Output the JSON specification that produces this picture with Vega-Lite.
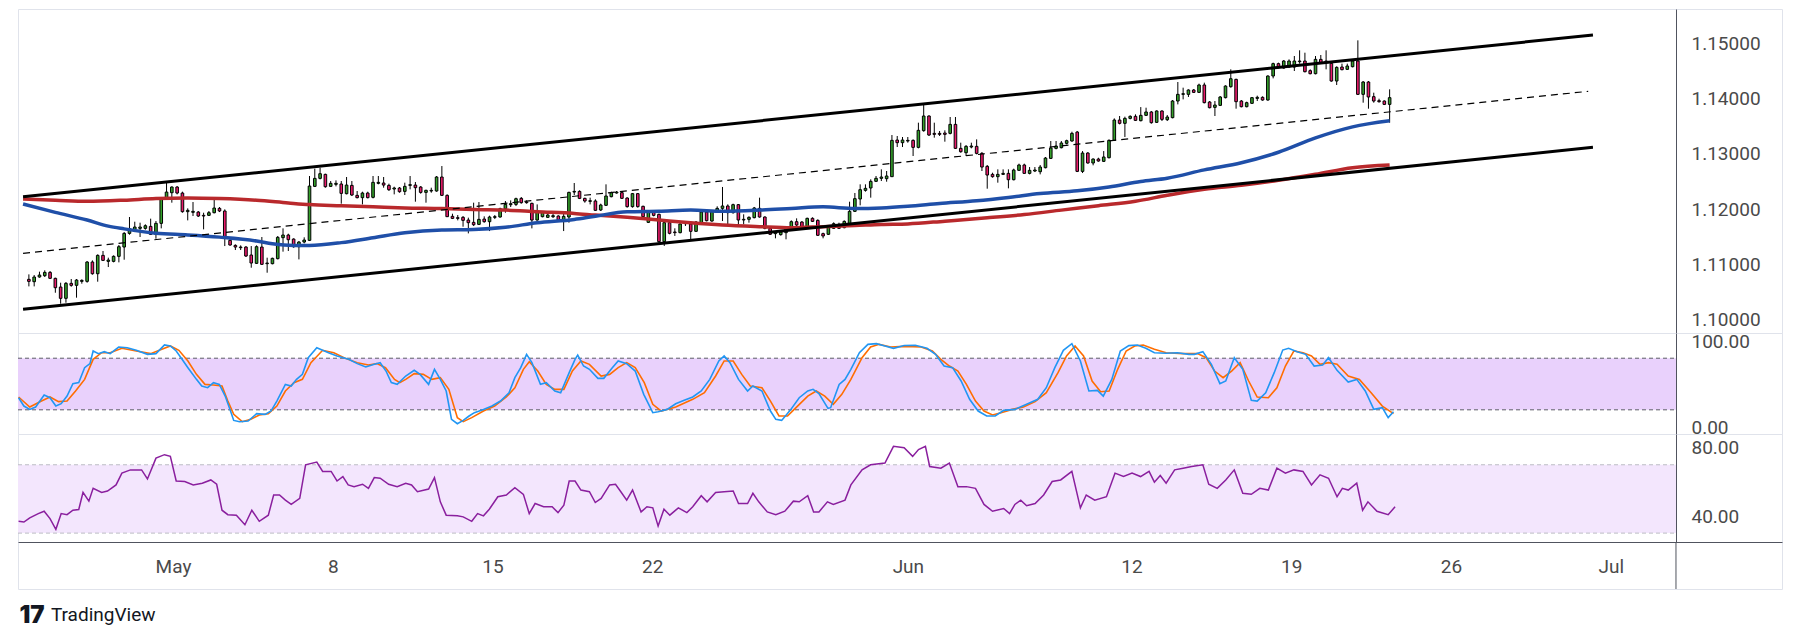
{
  "$schema": "https://vega.github.io/schema/vega-lite/v6.json",
  "description": "4h candles in a rising channel with two moving averages, stochastic and RSI panes",
  "background": "#ffffff",
  "padding": {"left": 14, "top": 8, "right": 0, "bottom": 0},
  "spacing": 0,
  "bounds": "flush",
  "title": {
    "text": "TradingView",
    "orient": "bottom",
    "anchor": "start",
    "dx": 36,
    "offset": -22,
    "baseline": "top",
    "font": "Roboto",
    "fontSize": 19,
    "fontWeight": "normal",
    "color": "#131722"
  },
  "datasets": {
    "candles": [
      {"i":0,"o":1.10724,"h":1.10814,"l":1.10596,"c":1.10687},
      {"i":1,"o":1.10681,"h":1.10802,"l":1.10596,"c":1.10766},
      {"i":2,"o":1.10766,"h":1.10863,"l":1.10754,"c":1.10802},
      {"i":3,"o":1.1079,"h":1.10887,"l":1.10766,"c":1.1085},
      {"i":4,"o":1.1085,"h":1.10875,"l":1.1073,"c":1.10742},
      {"i":5,"o":1.10742,"h":1.10754,"l":1.10481,"c":1.10572},
      {"i":6,"o":1.10584,"h":1.10663,"l":1.10282,"c":1.10379},
      {"i":7,"o":1.10379,"h":1.10675,"l":1.103,"c":1.10651},
      {"i":8,"o":1.10651,"h":1.1073,"l":1.1059,"c":1.10615},
      {"i":9,"o":1.10615,"h":1.1073,"l":1.10391,"c":1.10711},
      {"i":10,"o":1.10687,"h":1.10724,"l":1.10645,"c":1.10705},
      {"i":11,"o":1.10687,"h":1.11056,"l":1.10663,"c":1.11038},
      {"i":12,"o":1.11038,"h":1.11068,"l":1.10808,"c":1.10826},
      {"i":13,"o":1.10826,"h":1.11177,"l":1.10681,"c":1.11159},
      {"i":14,"o":1.11159,"h":1.11238,"l":1.11056,"c":1.11068},
      {"i":15,"o":1.1105,"h":1.11117,"l":1.10947,"c":1.11074},
      {"i":16,"o":1.1105,"h":1.11159,"l":1.11032,"c":1.11141},
      {"i":17,"o":1.11141,"h":1.11347,"l":1.11032,"c":1.11316},
      {"i":18,"o":1.1131,"h":1.11582,"l":1.1108,"c":1.11558},
      {"i":19,"o":1.11558,"h":1.11855,"l":1.11534,"c":1.11643},
      {"i":20,"o":1.11631,"h":1.1177,"l":1.11582,"c":1.11673},
      {"i":21,"o":1.11649,"h":1.11752,"l":1.11492,"c":1.11673},
      {"i":22,"o":1.11649,"h":1.11722,"l":1.11625,"c":1.11697},
      {"i":23,"o":1.11685,"h":1.11825,"l":1.11528,"c":1.1154},
      {"i":24,"o":1.1154,"h":1.11782,"l":1.11461,"c":1.1174},
      {"i":25,"o":1.1174,"h":1.12218,"l":1.11649,"c":1.12194},
      {"i":26,"o":1.12194,"h":1.12472,"l":1.12175,"c":1.12308},
      {"i":27,"o":1.12296,"h":1.12411,"l":1.12115,"c":1.12399},
      {"i":28,"o":1.12399,"h":1.12417,"l":1.12266,"c":1.1229},
      {"i":29,"o":1.1229,"h":1.12315,"l":1.11933,"c":1.11952},
      {"i":30,"o":1.11952,"h":1.12012,"l":1.11794,"c":1.11976},
      {"i":31,"o":1.1194,"h":1.12127,"l":1.11873,"c":1.11958},
      {"i":32,"o":1.11945,"h":1.11964,"l":1.11855,"c":1.11873},
      {"i":33,"o":1.11885,"h":1.11933,"l":1.11631,"c":1.11873},
      {"i":34,"o":1.11885,"h":1.11964,"l":1.11873,"c":1.11933},
      {"i":35,"o":1.11933,"h":1.12206,"l":1.11921,"c":1.12018},
      {"i":36,"o":1.12012,"h":1.12036,"l":1.11945,"c":1.11964},
      {"i":37,"o":1.11964,"h":1.11994,"l":1.11328,"c":1.11468},
      {"i":38,"o":1.11431,"h":1.11455,"l":1.11334,"c":1.11347},
      {"i":39,"o":1.1134,"h":1.11359,"l":1.11256,"c":1.1131},
      {"i":40,"o":1.1131,"h":1.1134,"l":1.11256,"c":1.11298},
      {"i":41,"o":1.1131,"h":1.11328,"l":1.11129,"c":1.11147},
      {"i":42,"o":1.11165,"h":1.11328,"l":1.10935,"c":1.1102},
      {"i":43,"o":1.11014,"h":1.1134,"l":1.11002,"c":1.11316},
      {"i":44,"o":1.1131,"h":1.11492,"l":1.10984,"c":1.10996},
      {"i":45,"o":1.11008,"h":1.11117,"l":1.10844,"c":1.1102},
      {"i":46,"o":1.11008,"h":1.11117,"l":1.10996,"c":1.11105},
      {"i":47,"o":1.11099,"h":1.1151,"l":1.11086,"c":1.11486},
      {"i":48,"o":1.1148,"h":1.11649,"l":1.11226,"c":1.11528},
      {"i":49,"o":1.11528,"h":1.11552,"l":1.11238,"c":1.11443},
      {"i":50,"o":1.11455,"h":1.11468,"l":1.11298,"c":1.11316},
      {"i":51,"o":1.11316,"h":1.11419,"l":1.11086,"c":1.11401},
      {"i":52,"o":1.11401,"h":1.11486,"l":1.11377,"c":1.11437},
      {"i":53,"o":1.11431,"h":1.12599,"l":1.11419,"c":1.12417},
      {"i":54,"o":1.12411,"h":1.12732,"l":1.12399,"c":1.12556},
      {"i":55,"o":1.12556,"h":1.1275,"l":1.12538,"c":1.12641},
      {"i":56,"o":1.12629,"h":1.12641,"l":1.12387,"c":1.12405},
      {"i":57,"o":1.12411,"h":1.12508,"l":1.12399,"c":1.12466},
      {"i":58,"o":1.12448,"h":1.1252,"l":1.12411,"c":1.12466},
      {"i":59,"o":1.12454,"h":1.12508,"l":1.12097,"c":1.12284},
      {"i":60,"o":1.12278,"h":1.12581,"l":1.12266,"c":1.12435},
      {"i":61,"o":1.12429,"h":1.12508,"l":1.12236,"c":1.12254},
      {"i":62,"o":1.12248,"h":1.12327,"l":1.12193,"c":1.12206},
      {"i":63,"o":1.12206,"h":1.12314,"l":1.12084,"c":1.1229},
      {"i":64,"o":1.1229,"h":1.12314,"l":1.12193,"c":1.12206},
      {"i":65,"o":1.12212,"h":1.12599,"l":1.12193,"c":1.12484},
      {"i":66,"o":1.12466,"h":1.12599,"l":1.12448,"c":1.12484},
      {"i":67,"o":1.12472,"h":1.12581,"l":1.12387,"c":1.12435},
      {"i":68,"o":1.12429,"h":1.1246,"l":1.12327,"c":1.12351},
      {"i":69,"o":1.12363,"h":1.12405,"l":1.12266,"c":1.12381},
      {"i":70,"o":1.12381,"h":1.12399,"l":1.12296,"c":1.12314},
      {"i":71,"o":1.1232,"h":1.12478,"l":1.12254,"c":1.12411},
      {"i":72,"o":1.12429,"h":1.12599,"l":1.12357,"c":1.12442},
      {"i":73,"o":1.12435,"h":1.1249,"l":1.12133,"c":1.12387},
      {"i":74,"o":1.12399,"h":1.12417,"l":1.12278,"c":1.12302},
      {"i":75,"o":1.12302,"h":1.12351,"l":1.12115,"c":1.12339},
      {"i":76,"o":1.12327,"h":1.12387,"l":1.12296,"c":1.12339},
      {"i":77,"o":1.12327,"h":1.12599,"l":1.12314,"c":1.12581},
      {"i":78,"o":1.12581,"h":1.1278,"l":1.12236,"c":1.12248},
      {"i":79,"o":1.12248,"h":1.12266,"l":1.11855,"c":1.11861},
      {"i":80,"o":1.11867,"h":1.11915,"l":1.11818,"c":1.1183},
      {"i":81,"o":1.11843,"h":1.11891,"l":1.11794,"c":1.1183},
      {"i":82,"o":1.11849,"h":1.11873,"l":1.11679,"c":1.11794},
      {"i":83,"o":1.118,"h":1.11843,"l":1.11558,"c":1.11752},
      {"i":84,"o":1.11758,"h":1.12115,"l":1.11691,"c":1.11715},
      {"i":85,"o":1.11721,"h":1.12127,"l":1.11709,"c":1.11812},
      {"i":86,"o":1.11818,"h":1.11867,"l":1.11752,"c":1.1177},
      {"i":87,"o":1.1177,"h":1.11879,"l":1.116,"c":1.11855},
      {"i":88,"o":1.11849,"h":1.11891,"l":1.11818,"c":1.11861},
      {"i":89,"o":1.11855,"h":1.12024,"l":1.11843,"c":1.12006},
      {"i":90,"o":1.12006,"h":1.12145,"l":1.11933,"c":1.12084},
      {"i":91,"o":1.12078,"h":1.12157,"l":1.12036,"c":1.12097},
      {"i":92,"o":1.12084,"h":1.12206,"l":1.12054,"c":1.12187},
      {"i":93,"o":1.12193,"h":1.12218,"l":1.12097,"c":1.12115},
      {"i":94,"o":1.12127,"h":1.12157,"l":1.12097,"c":1.12115},
      {"i":95,"o":1.12103,"h":1.12115,"l":1.11649,"c":1.118},
      {"i":96,"o":1.118,"h":1.12084,"l":1.11788,"c":1.11939},
      {"i":97,"o":1.11861,"h":1.11963,"l":1.11849,"c":1.11951},
      {"i":98,"o":1.11849,"h":1.11921,"l":1.11837,"c":1.11891},
      {"i":99,"o":1.11861,"h":1.11915,"l":1.11837,"c":1.11879},
      {"i":100,"o":1.11873,"h":1.11885,"l":1.11782,"c":1.11794},
      {"i":101,"o":1.11794,"h":1.11963,"l":1.116,"c":1.11867},
      {"i":102,"o":1.11855,"h":1.12314,"l":1.11752,"c":1.12302},
      {"i":103,"o":1.12308,"h":1.12472,"l":1.12254,"c":1.1232},
      {"i":104,"o":1.1232,"h":1.12339,"l":1.12181,"c":1.12193},
      {"i":105,"o":1.12193,"h":1.12206,"l":1.12115,"c":1.12145},
      {"i":106,"o":1.12139,"h":1.12206,"l":1.12084,"c":1.12151},
      {"i":107,"o":1.12146,"h":1.12176,"l":1.11964,"c":1.11976},
      {"i":108,"o":1.11982,"h":1.12097,"l":1.11964,"c":1.12073},
      {"i":109,"o":1.12067,"h":1.12448,"l":1.12055,"c":1.12236},
      {"i":110,"o":1.12224,"h":1.12315,"l":1.12212,"c":1.12297},
      {"i":111,"o":1.12291,"h":1.12327,"l":1.12279,"c":1.12309},
      {"i":112,"o":1.12297,"h":1.12309,"l":1.12182,"c":1.12194},
      {"i":113,"o":1.122,"h":1.12212,"l":1.12025,"c":1.12043},
      {"i":114,"o":1.12043,"h":1.12291,"l":1.12025,"c":1.12279},
      {"i":115,"o":1.12279,"h":1.12291,"l":1.12025,"c":1.12043},
      {"i":116,"o":1.12049,"h":1.12061,"l":1.11843,"c":1.11861},
      {"i":117,"o":1.11758,"h":1.11964,"l":1.11746,"c":1.11952},
      {"i":118,"o":1.11946,"h":1.11958,"l":1.11867,"c":1.11885},
      {"i":119,"o":1.11904,"h":1.11916,"l":1.1139,"c":1.11408},
      {"i":120,"o":1.11408,"h":1.11764,"l":1.1133,"c":1.11752},
      {"i":121,"o":1.11752,"h":1.11764,"l":1.11541,"c":1.11559},
      {"i":122,"o":1.11583,"h":1.1165,"l":1.11511,"c":1.11571},
      {"i":123,"o":1.11571,"h":1.1174,"l":1.11559,"c":1.11728},
      {"i":124,"o":1.11734,"h":1.11776,"l":1.11692,"c":1.11746},
      {"i":125,"o":1.11728,"h":1.1177,"l":1.1145,"c":1.11595},
      {"i":126,"o":1.11595,"h":1.11782,"l":1.11583,"c":1.11764},
      {"i":127,"o":1.11752,"h":1.11964,"l":1.11734,"c":1.11946},
      {"i":128,"o":1.11946,"h":1.11964,"l":1.11776,"c":1.11788},
      {"i":129,"o":1.11782,"h":1.11964,"l":1.1177,"c":1.11952},
      {"i":130,"o":1.11952,"h":1.12049,"l":1.11934,"c":1.12012},
      {"i":131,"o":1.12012,"h":1.124,"l":1.11782,"c":1.12055},
      {"i":132,"o":1.12055,"h":1.12085,"l":1.11692,"c":1.11934},
      {"i":133,"o":1.11934,"h":1.12097,"l":1.11916,"c":1.12079},
      {"i":134,"o":1.12079,"h":1.12091,"l":1.11692,"c":1.11801},
      {"i":135,"o":1.11801,"h":1.11904,"l":1.11722,"c":1.11813},
      {"i":136,"o":1.11813,"h":1.11867,"l":1.11752,"c":1.11849},
      {"i":137,"o":1.11843,"h":1.12037,"l":1.11831,"c":1.12019},
      {"i":138,"o":1.12012,"h":1.12206,"l":1.11843,"c":1.11855},
      {"i":139,"o":1.11855,"h":1.11867,"l":1.11632,"c":1.1165},
      {"i":140,"o":1.1165,"h":1.11674,"l":1.11529,"c":1.11541},
      {"i":141,"o":1.11553,"h":1.11601,"l":1.11468,"c":1.11571},
      {"i":142,"o":1.11535,"h":1.11601,"l":1.11517,"c":1.11583},
      {"i":143,"o":1.11571,"h":1.11692,"l":1.1145,"c":1.1165},
      {"i":144,"o":1.1165,"h":1.11794,"l":1.11632,"c":1.1177},
      {"i":145,"o":1.1177,"h":1.11831,"l":1.11692,"c":1.1171},
      {"i":146,"o":1.11764,"h":1.11782,"l":1.11632,"c":1.1165},
      {"i":147,"o":1.1165,"h":1.11843,"l":1.11638,"c":1.11831},
      {"i":148,"o":1.11831,"h":1.11849,"l":1.11764,"c":1.11776},
      {"i":149,"o":1.11794,"h":1.11813,"l":1.11511,"c":1.11523},
      {"i":150,"o":1.11553,"h":1.11571,"l":1.11468,"c":1.11511},
      {"i":151,"o":1.11541,"h":1.1171,"l":1.11529,"c":1.11698},
      {"i":152,"o":1.1165,"h":1.11758,"l":1.11638,"c":1.11734},
      {"i":153,"o":1.11722,"h":1.11752,"l":1.11638,"c":1.1165},
      {"i":154,"o":1.11662,"h":1.11794,"l":1.1165,"c":1.11776},
      {"i":155,"o":1.1171,"h":1.12133,"l":1.11698,"c":1.11958},
      {"i":156,"o":1.11958,"h":1.12291,"l":1.11946,"c":1.12188},
      {"i":157,"o":1.12182,"h":1.12448,"l":1.12067,"c":1.12351},
      {"i":158,"o":1.12339,"h":1.12448,"l":1.12315,"c":1.12375},
      {"i":159,"o":1.12382,"h":1.12539,"l":1.12206,"c":1.12502},
      {"i":160,"o":1.12502,"h":1.12599,"l":1.1249,"c":1.12557},
      {"i":161,"o":1.12557,"h":1.1272,"l":1.12508,"c":1.12581},
      {"i":162,"o":1.12551,"h":1.1269,"l":1.12496,"c":1.12599},
      {"i":163,"o":1.12587,"h":1.13343,"l":1.12581,"c":1.13246},
      {"i":164,"o":1.13252,"h":1.13325,"l":1.13125,"c":1.13204},
      {"i":165,"o":1.13204,"h":1.13307,"l":1.13125,"c":1.13252},
      {"i":166,"o":1.13234,"h":1.13307,"l":1.13204,"c":1.13246},
      {"i":167,"o":1.13246,"h":1.13264,"l":1.12962,"c":1.13119},
      {"i":168,"o":1.13119,"h":1.13567,"l":1.13101,"c":1.13428},
      {"i":169,"o":1.13422,"h":1.13899,"l":1.13403,"c":1.13688},
      {"i":170,"o":1.13688,"h":1.137,"l":1.13325,"c":1.13343},
      {"i":171,"o":1.13373,"h":1.13567,"l":1.13295,"c":1.13355},
      {"i":172,"o":1.13373,"h":1.13416,"l":1.13325,"c":1.13355},
      {"i":173,"o":1.13379,"h":1.13428,"l":1.13222,"c":1.13355},
      {"i":174,"o":1.13373,"h":1.1367,"l":1.13355,"c":1.13536},
      {"i":175,"o":1.13536,"h":1.1367,"l":1.13089,"c":1.13101},
      {"i":176,"o":1.13101,"h":1.13204,"l":1.13022,"c":1.1304},
      {"i":177,"o":1.13022,"h":1.13161,"l":1.12962,"c":1.13137},
      {"i":178,"o":1.13125,"h":1.13204,"l":1.13101,"c":1.13143},
      {"i":179,"o":1.13137,"h":1.13264,"l":1.12992,"c":1.1301},
      {"i":180,"o":1.1301,"h":1.13034,"l":1.1269,"c":1.12762},
      {"i":181,"o":1.12774,"h":1.12799,"l":1.12369,"c":1.12617},
      {"i":182,"o":1.12629,"h":1.12659,"l":1.12569,"c":1.12587},
      {"i":183,"o":1.12587,"h":1.1272,"l":1.12478,"c":1.12629},
      {"i":184,"o":1.12629,"h":1.1272,"l":1.12617,"c":1.12647},
      {"i":185,"o":1.12647,"h":1.1272,"l":1.12375,"c":1.12532},
      {"i":186,"o":1.12532,"h":1.12732,"l":1.1252,"c":1.12708},
      {"i":187,"o":1.12702,"h":1.12823,"l":1.1269,"c":1.12799},
      {"i":188,"o":1.12799,"h":1.12823,"l":1.12641,"c":1.12647},
      {"i":189,"o":1.12647,"h":1.12762,"l":1.12629,"c":1.12702},
      {"i":190,"o":1.1269,"h":1.12762,"l":1.12671,"c":1.12708},
      {"i":191,"o":1.12677,"h":1.12799,"l":1.12629,"c":1.12762},
      {"i":192,"o":1.1275,"h":1.12944,"l":1.12738,"c":1.12925},
      {"i":193,"o":1.12919,"h":1.13234,"l":1.12907,"c":1.13107},
      {"i":194,"o":1.13101,"h":1.13234,"l":1.13083,"c":1.13143},
      {"i":195,"o":1.13113,"h":1.13234,"l":1.13101,"c":1.13198},
      {"i":196,"o":1.13192,"h":1.13258,"l":1.13173,"c":1.1324},
      {"i":197,"o":1.13234,"h":1.13403,"l":1.13222,"c":1.13373},
      {"i":198,"o":1.13397,"h":1.13416,"l":1.12671,"c":1.12683},
      {"i":199,"o":1.12683,"h":1.13052,"l":1.12653,"c":1.13016},
      {"i":200,"o":1.13016,"h":1.13034,"l":1.12823,"c":1.12835},
      {"i":201,"o":1.12835,"h":1.12919,"l":1.12793,"c":1.12907},
      {"i":202,"o":1.12907,"h":1.12931,"l":1.12859,"c":1.12871},
      {"i":203,"o":1.12865,"h":1.13052,"l":1.12853,"c":1.12944},
      {"i":204,"o":1.12931,"h":1.13264,"l":1.12919,"c":1.13246},
      {"i":205,"o":1.13246,"h":1.13645,"l":1.13234,"c":1.13615},
      {"i":206,"o":1.13615,"h":1.13688,"l":1.13536,"c":1.13555},
      {"i":207,"o":1.13555,"h":1.13676,"l":1.13307,"c":1.13645},
      {"i":208,"o":1.13645,"h":1.137,"l":1.13627,"c":1.13682},
      {"i":209,"o":1.13682,"h":1.13718,"l":1.13597,"c":1.13609},
      {"i":210,"o":1.13603,"h":1.1385,"l":1.13591,"c":1.137},
      {"i":211,"o":1.137,"h":1.13839,"l":1.13688,"c":1.13761},
      {"i":212,"o":1.13761,"h":1.13779,"l":1.13549,"c":1.13567},
      {"i":213,"o":1.13573,"h":1.13791,"l":1.13561,"c":1.13779},
      {"i":214,"o":1.13779,"h":1.13791,"l":1.13597,"c":1.13627},
      {"i":215,"o":1.13621,"h":1.13706,"l":1.13597,"c":1.1367},
      {"i":216,"o":1.13658,"h":1.13978,"l":1.13646,"c":1.1396},
      {"i":217,"o":1.1396,"h":1.14305,"l":1.13899,"c":1.14081},
      {"i":218,"o":1.14081,"h":1.14202,"l":1.1399,"c":1.14093},
      {"i":219,"o":1.14081,"h":1.14172,"l":1.14033,"c":1.1416},
      {"i":220,"o":1.1416,"h":1.14178,"l":1.14105,"c":1.14117},
      {"i":221,"o":1.14117,"h":1.14275,"l":1.14105,"c":1.14251},
      {"i":222,"o":1.14251,"h":1.14293,"l":1.13918,"c":1.1393},
      {"i":223,"o":1.13942,"h":1.1396,"l":1.13827,"c":1.13839},
      {"i":224,"o":1.13845,"h":1.1396,"l":1.13688,"c":1.13887},
      {"i":225,"o":1.13881,"h":1.14051,"l":1.13869,"c":1.14033},
      {"i":226,"o":1.14021,"h":1.14245,"l":1.14008,"c":1.14232},
      {"i":227,"o":1.1422,"h":1.14535,"l":1.14202,"c":1.14365},
      {"i":228,"o":1.14353,"h":1.14365,"l":1.13821,"c":1.13948},
      {"i":229,"o":1.1396,"h":1.13978,"l":1.13845,"c":1.13857},
      {"i":230,"o":1.13857,"h":1.13948,"l":1.13845,"c":1.1393},
      {"i":231,"o":1.13918,"h":1.14033,"l":1.13906,"c":1.14021},
      {"i":232,"o":1.14008,"h":1.14057,"l":1.1396,"c":1.14027},
      {"i":233,"o":1.14027,"h":1.14045,"l":1.13966,"c":1.13978},
      {"i":234,"o":1.13978,"h":1.14426,"l":1.13966,"c":1.14414},
      {"i":235,"o":1.14414,"h":1.14656,"l":1.14371,"c":1.14638},
      {"i":236,"o":1.14638,"h":1.14656,"l":1.14553,"c":1.14565},
      {"i":237,"o":1.14559,"h":1.14704,"l":1.14547,"c":1.14686},
      {"i":238,"o":1.14577,"h":1.14716,"l":1.14565,"c":1.14686},
      {"i":239,"o":1.14577,"h":1.14777,"l":1.14505,"c":1.14686},
      {"i":240,"o":1.14674,"h":1.1488,"l":1.14638,"c":1.14686},
      {"i":241,"o":1.14686,"h":1.14837,"l":1.1448,"c":1.14492},
      {"i":242,"o":1.14511,"h":1.14535,"l":1.14444,"c":1.14456},
      {"i":243,"o":1.14456,"h":1.14777,"l":1.14444,"c":1.14716},
      {"i":244,"o":1.14716,"h":1.14795,"l":1.14644,"c":1.14656},
      {"i":245,"o":1.14674,"h":1.1488,"l":1.14535,"c":1.14686},
      {"i":246,"o":1.14644,"h":1.14656,"l":1.14311,"c":1.14323},
      {"i":247,"o":1.14323,"h":1.14589,"l":1.14251,"c":1.14571},
      {"i":248,"o":1.14577,"h":1.14638,"l":1.14517,"c":1.14529},
      {"i":249,"o":1.14535,"h":1.14638,"l":1.14523,"c":1.14595},
      {"i":250,"o":1.14583,"h":1.14698,"l":1.14571,"c":1.14686},
      {"i":251,"o":1.14686,"h":1.15061,"l":1.14069,"c":1.14081},
      {"i":252,"o":1.14081,"h":1.14323,"l":1.1393,"c":1.14305},
      {"i":253,"o":1.14305,"h":1.14323,"l":1.13821,"c":1.14033},
      {"i":254,"o":1.14039,"h":1.14111,"l":1.1393,"c":1.1396},
      {"i":255,"o":1.13966,"h":1.14002,"l":1.1393,"c":1.13948},
      {"i":256,"o":1.1396,"h":1.13972,"l":1.13887,"c":1.13899},
      {"i":257,"o":1.13899,"h":1.14172,"l":1.13567,"c":1.14021}
    ],
    "channel": [
      {"g":"upper","i":-1.1,"p":1.12223},{"g":"upper","i":295.4,"p":1.15158},
      {"g":"lower","i":-1.1,"p":1.1018},{"g":"lower","i":295.4,"p":1.1312},
      {"g":"mid","i":-1.1,"p":1.11196},{"g":"mid","i":294.5,"p":1.14136}
    ],
    "maBlue": [
      {"i":-1.1,"v":1.1209},{"i":5,"v":1.1194},{"i":11,"v":1.118},{"i":15,"v":1.1169},{"i":18,"v":1.1164},
      {"i":24,"v":1.1156},{"i":30,"v":1.1153},{"i":36,"v":1.1149},{"i":43,"v":1.1142},{"i":46,"v":1.1137},
      {"i":50,"v":1.1134},{"i":53,"v":1.1134},{"i":59,"v":1.1139},{"i":65,"v":1.1148},{"i":71,"v":1.1157},
      {"i":78,"v":1.1162},{"i":84,"v":1.1163},{"i":90,"v":1.1167},{"i":96,"v":1.1175},{"i":103,"v":1.1181},
      {"i":107,"v":1.1187},{"i":113,"v":1.1195},{"i":119,"v":1.1196},{"i":125,"v":1.1198},{"i":131,"v":1.1196},
      {"i":138,"v":1.1198},{"i":144,"v":1.1201},{"i":150,"v":1.1204},{"i":156,"v":1.1201},{"i":161,"v":1.1202},
      {"i":166,"v":1.1205},{"i":172,"v":1.121},{"i":179,"v":1.1215},{"i":185,"v":1.1221},{"i":191,"v":1.1228},
      {"i":198,"v":1.1233},{"i":204,"v":1.124},{"i":210,"v":1.125},{"i":215,"v":1.1256},{"i":222,"v":1.1271},
      {"i":229,"v":1.1284},{"i":236,"v":1.1303},{"i":243,"v":1.1329},{"i":250,"v":1.1349},{"i":257,"v":1.136}
    ],
    "maRed": [
      {"i":-1.1,"v":1.1218},{"i":5,"v":1.1216},{"i":11,"v":1.1214},{"i":18,"v":1.1216},{"i":24,"v":1.1219},
      {"i":30,"v":1.122},{"i":36,"v":1.1219},{"i":43,"v":1.1216},{"i":49,"v":1.1211},{"i":53,"v":1.1208},
      {"i":59,"v":1.1206},{"i":65,"v":1.1204},{"i":71,"v":1.1202},{"i":78,"v":1.1201},{"i":84,"v":1.1199},
      {"i":90,"v":1.1198},{"i":96,"v":1.1195},{"i":103,"v":1.1192},{"i":107,"v":1.1189},{"i":113,"v":1.1185},
      {"i":119,"v":1.118},{"i":125,"v":1.1175},{"i":131,"v":1.1171},{"i":138,"v":1.1168},{"i":144,"v":1.1166},
      {"i":150,"v":1.1168},{"i":156,"v":1.117},{"i":161,"v":1.1172},{"i":166,"v":1.1173},{"i":173,"v":1.1178},
      {"i":181,"v":1.1184},{"i":188,"v":1.119},{"i":195,"v":1.1198},{"i":202,"v":1.1206},{"i":209,"v":1.1214},
      {"i":215,"v":1.1225},{"i":222,"v":1.1236},{"i":229,"v":1.1243},{"i":236,"v":1.1252},{"i":243,"v":1.1263},
      {"i":250,"v":1.1275},{"i":257,"v":1.128}
    ],
    "stochK": [
      {"i":-1,"v":34.1},{"i":0,"v":24.4},{"i":1.1,"v":20.5},{"i":2.2,"v":23.3},{"i":3.8,"v":37.2},{"i":4.9,"v":34.1},
      {"i":6,"v":24.4},{"i":7,"v":27.1},{"i":8.1,"v":36},{"i":9.2,"v":50.4},{"i":10.3,"v":51.6},{"i":11.4,"v":69},
      {"i":12.4,"v":73.7},{"i":13,"v":88.4},{"i":14,"v":85.3},{"i":15.1,"v":87.6},{"i":16.2,"v":85.3},{"i":17.8,"v":93},
      {"i":19.4,"v":92.2},{"i":21.1,"v":89.2},{"i":23.2,"v":84.5},{"i":24.8,"v":85.3},{"i":26.4,"v":95.4},{"i":27.5,"v":94.2},
      {"i":28.6,"v":88.4},{"i":29.7,"v":78.7},{"i":30.8,"v":69},{"i":32.4,"v":55.4},{"i":33.4,"v":47.7},{"i":34.5,"v":45.7},
      {"i":35.6,"v":51.6},{"i":36.7,"v":49.6},{"i":37.8,"v":36},{"i":38.8,"v":18.6},{"i":39.4,"v":7.7},{"i":40.5,"v":6.2},
      {"i":42.1,"v":7},{"i":43.7,"v":15.5},{"i":45.3,"v":14.7},{"i":46.4,"v":18.6},{"i":47.5,"v":30.2},{"i":49.1,"v":49.6},
      {"i":50.2,"v":47.7},{"i":51.2,"v":55.4},{"i":52.3,"v":61.2},{"i":53.4,"v":80.6},{"i":55,"v":92.2},{"i":56.1,"v":89.2},
      {"i":57.2,"v":86.4},{"i":58.8,"v":82.6},{"i":61,"v":78.7},{"i":62.6,"v":73.7},{"i":64.2,"v":69.8},{"i":65.8,"v":72.9},
      {"i":66.9,"v":74.8},{"i":68,"v":65.1},{"i":69,"v":51.6},{"i":70.1,"v":49.6},{"i":71.7,"v":59.3},{"i":73.3,"v":65.9},
      {"i":74.4,"v":61.2},{"i":76,"v":49.6},{"i":77.1,"v":67},{"i":78.2,"v":55.4},{"i":79.3,"v":41.9},{"i":80.3,"v":8.9},
      {"i":81.4,"v":3.9},{"i":82.5,"v":7.7},{"i":83.6,"v":12.8},{"i":84.6,"v":16.7},{"i":86.3,"v":20.5},{"i":87.9,"v":24.4},
      {"i":89.5,"v":30.2},{"i":91.1,"v":39.9},{"i":92.2,"v":57.4},{"i":93.3,"v":69},{"i":94.4,"v":84.5},{"i":95.4,"v":74.8},
      {"i":97,"v":49.6},{"i":98.1,"v":51.6},{"i":99.7,"v":41.9},{"i":100.8,"v":39.9},{"i":102.4,"v":63.2},{"i":103.5,"v":78.7},
      {"i":104,"v":83.7},{"i":105.1,"v":70.9},{"i":106.2,"v":67.1},{"i":107.8,"v":56.6},{"i":108.9,"v":56.6},{"i":110.5,"v":69},
      {"i":111.6,"v":76.8},{"i":113.2,"v":73.7},{"i":114.8,"v":65.1},{"i":116.4,"v":38},{"i":118.1,"v":16.7},{"i":119.1,"v":17.8},
      {"i":120.8,"v":20.5},{"i":122.4,"v":27.1},{"i":124,"v":31},{"i":125.6,"v":34.9},{"i":127.2,"v":41.9},{"i":128.8,"v":55.4},
      {"i":130.5,"v":76.8},{"i":131.5,"v":82.6},{"i":132.6,"v":74.8},{"i":134.2,"v":55.4},{"i":135.9,"v":41.9},{"i":136.9,"v":47.7},
      {"i":138.6,"v":41.9},{"i":140.2,"v":18.6},{"i":141.2,"v":8.9},{"i":142.3,"v":7.7},{"i":143.9,"v":19.4},{"i":145.6,"v":34.1},
      {"i":147.2,"v":41.9},{"i":148.2,"v":43.8},{"i":149.3,"v":38.8},{"i":151,"v":21.7},{"i":151.5,"v":22.5},{"i":153.1,"v":49.6},
      {"i":154.2,"v":55.4},{"i":155.3,"v":67.1},{"i":156.9,"v":86.4},{"i":158.5,"v":96.1},{"i":160.1,"v":96.9},{"i":161.7,"v":94.2},
      {"i":163.3,"v":91.5},{"i":165.3,"v":94.8},{"i":167.4,"v":95},{"i":169.6,"v":91.5},{"i":171.2,"v":84.5},{"i":172.8,"v":70.9},
      {"i":174.4,"v":69},{"i":176,"v":53.5},{"i":177.6,"v":32.2},{"i":179.2,"v":18.6},{"i":180.8,"v":12.8},{"i":182.4,"v":12.8},
      {"i":184,"v":19.4},{"i":186.1,"v":20.5},{"i":188.3,"v":26.4},{"i":190.4,"v":32.2},{"i":192,"v":45.7},{"i":193.6,"v":69},
      {"i":195.2,"v":89.2},{"i":196.8,"v":96.9},{"i":198.4,"v":76.8},{"i":200,"v":41.9},{"i":201.6,"v":42.6},{"i":202.7,"v":36},
      {"i":204.3,"v":55.4},{"i":205.9,"v":88.4},{"i":207.5,"v":94.6},{"i":209.1,"v":95.4},{"i":210.7,"v":91.5},{"i":212.3,"v":86.4},
      {"i":214.5,"v":85.7},{"i":216.6,"v":86.4},{"i":218.8,"v":84.5},{"i":219.8,"v":84.5},{"i":221.4,"v":87.6},{"i":223,"v":72.9},
      {"i":224.6,"v":50.4},{"i":225.7,"v":53.5},{"i":227.3,"v":80.6},{"i":228.9,"v":67.1},{"i":230.5,"v":31},{"i":231.6,"v":30.2},
      {"i":233.2,"v":39.9},{"i":234.8,"v":63.2},{"i":236.4,"v":89.5},{"i":237.5,"v":91.5},{"i":239.1,"v":87.6},{"i":240.7,"v":84.5},
      {"i":242.3,"v":70.9},{"i":243.9,"v":72.1},{"i":245,"v":80.6},{"i":246.6,"v":65.9},{"i":248.7,"v":52.3},{"i":250.3,"v":55.4},
      {"i":251.9,"v":41.9},{"i":253.5,"v":20.5},{"i":255.1,"v":22.5},{"i":256.2,"v":10.9},{"i":257.2,"v":17.8}
    ],
    "stochD": [
      {"i":-1,"v":34.9},{"i":1.1,"v":23.3},{"i":3.3,"v":30.2},{"i":4.9,"v":34.9},{"i":6.5,"v":29.5},{"i":8.1,"v":30.2},
      {"i":9.7,"v":41.9},{"i":11.4,"v":55.4},{"i":13,"v":78.7},{"i":14.6,"v":86.4},{"i":16.2,"v":86.4},{"i":18.4,"v":91.5},
      {"i":21.1,"v":88.4},{"i":23.8,"v":85.3},{"i":25.9,"v":90.3},{"i":27.5,"v":94.2},{"i":29.1,"v":89.2},{"i":30.8,"v":76.8},
      {"i":32.4,"v":61.2},{"i":34,"v":49.6},{"i":35.6,"v":48.8},{"i":37.2,"v":47.7},{"i":38.3,"v":30.2},{"i":39.4,"v":14.7},
      {"i":41,"v":6.2},{"i":42.6,"v":8.9},{"i":44.2,"v":14},{"i":45.9,"v":15.5},{"i":47.5,"v":24.4},{"i":49.1,"v":41.9},
      {"i":50.7,"v":51.6},{"i":52.3,"v":55.4},{"i":53.9,"v":74.8},{"i":56.1,"v":89.2},{"i":58.2,"v":86.4},{"i":60.4,"v":79.8},
      {"i":62.6,"v":74.8},{"i":64.7,"v":72.1},{"i":66.3,"v":73.7},{"i":67.9,"v":69},{"i":69.6,"v":55.4},{"i":70.6,"v":51.6},
      {"i":71.7,"v":55.4},{"i":73.3,"v":62},{"i":75,"v":61.2},{"i":76.6,"v":55.4},{"i":78.2,"v":57.4},{"i":79.8,"v":43.8},
      {"i":81.4,"v":10.9},{"i":82.5,"v":6.2},{"i":84.1,"v":10.9},{"i":86.3,"v":18.6},{"i":88.4,"v":24.4},{"i":90.6,"v":34.9},
      {"i":92.2,"v":45.7},{"i":93.8,"v":67.1},{"i":94.9,"v":76},{"i":96.5,"v":65.1},{"i":98.1,"v":49.6},{"i":99.7,"v":43.8},
      {"i":101.4,"v":43.8},{"i":103,"v":65.1},{"i":104.6,"v":76.8},{"i":106.2,"v":72.9},{"i":108.4,"v":59.3},{"i":110,"v":61.2},
      {"i":111.6,"v":69},{"i":113.2,"v":74.8},{"i":114.8,"v":69},{"i":116.5,"v":51.6},{"i":118.1,"v":26.4},{"i":119.7,"v":18.6},
      {"i":122.4,"v":23.3},{"i":125.6,"v":32.2},{"i":127.8,"v":39.9},{"i":129.9,"v":59.3},{"i":131.5,"v":76.8},{"i":133.2,"v":76.8},
      {"i":134.8,"v":61.2},{"i":136.4,"v":47.7},{"i":138.6,"v":45.7},{"i":140.2,"v":30.2},{"i":141.8,"v":12.8},{"i":143.4,"v":12.8},
      {"i":145,"v":22.5},{"i":147.2,"v":36},{"i":148.8,"v":41.9},{"i":150.4,"v":36},{"i":152,"v":26.4},{"i":153.6,"v":38},
      {"i":155.3,"v":55.4},{"i":157.4,"v":80.6},{"i":159,"v":93},{"i":160.6,"v":96.1},{"i":162.8,"v":93},{"i":165.3,"v":93.8},
      {"i":168.5,"v":93},{"i":170.6,"v":88.4},{"i":172.2,"v":78.7},{"i":173.8,"v":70.9},{"i":175.4,"v":65.1},{"i":177,"v":49.6},
      {"i":178.7,"v":30.2},{"i":180.3,"v":18.6},{"i":181.9,"v":14},{"i":183.5,"v":16.7},{"i":185.6,"v":20.5},{"i":187.7,"v":23.3},
      {"i":189.9,"v":29.5},{"i":192,"v":39.9},{"i":194.2,"v":63.2},{"i":195.8,"v":82.6},{"i":197.4,"v":94.2},{"i":199,"v":82.6},
      {"i":200.6,"v":53.5},{"i":202.2,"v":41.1},{"i":203.8,"v":41.9},{"i":205.4,"v":67.1},{"i":207,"v":88.4},{"i":208.6,"v":94.2},
      {"i":210.2,"v":95.4},{"i":212.3,"v":90.3},{"i":214.5,"v":86.4},{"i":217.7,"v":85.3},{"i":220.4,"v":85.3},{"i":222,"v":80.6},
      {"i":223.6,"v":65.1},{"i":225.2,"v":57.4},{"i":226.8,"v":65.1},{"i":228.4,"v":74.8},{"i":230,"v":53.5},{"i":231.6,"v":34.9},
      {"i":233.7,"v":34.1},{"i":235.3,"v":45.7},{"i":236.9,"v":70.9},{"i":238.5,"v":88.4},{"i":240.2,"v":86.4},{"i":241.8,"v":82.6},
      {"i":243.4,"v":72.9},{"i":245,"v":74.8},{"i":246.6,"v":72.9},{"i":248.7,"v":59.3},{"i":250.8,"v":55.4},{"i":253,"v":39.9},
      {"i":255.1,"v":24.4},{"i":257.2,"v":15.5}
    ],
    "rsi": [
      {"i":-1,"v":36.9},{"i":0,"v":36.5},{"i":1.1,"v":38.9},{"i":2.7,"v":41.4},{"i":3.8,"v":42.8},{"i":4.9,"v":38.5},
      {"i":6,"v":32.2},{"i":7,"v":41.4},{"i":8.1,"v":40.8},{"i":9.2,"v":43.4},{"i":10.3,"v":43.8},{"i":11.1,"v":53.8},
      {"i":12.2,"v":48.7},{"i":13,"v":56.2},{"i":14.6,"v":53.8},{"i":15.7,"v":54.6},{"i":17.3,"v":58.2},{"i":18.4,"v":65.1},
      {"i":20,"v":67},{"i":22.1,"v":67},{"i":23.2,"v":61.7},{"i":24.8,"v":73.9},{"i":26.4,"v":75.9},{"i":27.5,"v":74.9},
      {"i":28.6,"v":60.5},{"i":30.2,"v":60.2},{"i":31.8,"v":58.2},{"i":33.5,"v":59.2},{"i":35.1,"v":61.1},{"i":36.2,"v":58.6},
      {"i":37.2,"v":43.4},{"i":38.3,"v":40.8},{"i":39.9,"v":40.5},{"i":41.5,"v":34.9},{"i":42.8,"v":43.4},{"i":44.2,"v":36.9},
      {"i":45.9,"v":40.5},{"i":46.9,"v":52.3},{"i":48,"v":52.3},{"i":49.1,"v":49.3},{"i":50.2,"v":46.8},{"i":51.8,"v":50.3},
      {"i":52.9,"v":70},{"i":55,"v":71.6},{"i":56.1,"v":66.1},{"i":57.7,"v":66.1},{"i":58.8,"v":60.5},{"i":59.9,"v":63.1},
      {"i":60.9,"v":58.2},{"i":62,"v":57.2},{"i":63.6,"v":58.6},{"i":64.7,"v":56.2},{"i":65.8,"v":62.5},{"i":66.9,"v":62.1},
      {"i":68.5,"v":58.6},{"i":70.1,"v":57.2},{"i":71.7,"v":59.2},{"i":72.8,"v":58.2},{"i":73.9,"v":54.2},{"i":76,"v":55.8},
      {"i":77.1,"v":62.5},{"i":78.2,"v":48.3},{"i":79.3,"v":40.5},{"i":81.4,"v":40.1},{"i":82.5,"v":39.5},{"i":84.1,"v":36.9},
      {"i":85.2,"v":41.4},{"i":86.3,"v":40.1},{"i":87.4,"v":44},{"i":89,"v":51.3},{"i":90.6,"v":52.3},{"i":92.2,"v":56.6},
      {"i":93.8,"v":52.7},{"i":94.9,"v":41.4},{"i":96,"v":47.3},{"i":97.6,"v":45.4},{"i":99.2,"v":45.4},{"i":100.3,"v":42},
      {"i":101.4,"v":46.4},{"i":102.4,"v":60.5},{"i":103.5,"v":60.5},{"i":104.6,"v":55.2},{"i":106.2,"v":54.2},{"i":107.3,"v":47.9},
      {"i":108.4,"v":50.3},{"i":110,"v":58.2},{"i":111.1,"v":58.6},{"i":112.1,"v":54.2},{"i":113.2,"v":49.3},{"i":114.3,"v":55.2},
      {"i":115.9,"v":42.4},{"i":117,"v":45.4},{"i":118.1,"v":44.8},{"i":119.1,"v":34.1},{"i":120.2,"v":44},{"i":121.3,"v":40.5},
      {"i":122.9,"v":44.8},{"i":124.5,"v":42},{"i":125.6,"v":45.4},{"i":127.2,"v":51.9},{"i":128.3,"v":48.3},{"i":129.9,"v":53.8},
      {"i":131.5,"v":54.2},{"i":133.2,"v":54.6},{"i":134.2,"v":47.3},{"i":135.9,"v":47.3},{"i":136.9,"v":53.3},{"i":138,"v":48.3},
      {"i":139.6,"v":42.4},{"i":141.2,"v":40.8},{"i":142.9,"v":42.8},{"i":144.5,"v":48.7},{"i":145.6,"v":48.3},{"i":147.2,"v":51.9},
      {"i":148.3,"v":42.4},{"i":149.3,"v":42.4},{"i":150.9,"v":48.3},{"i":152,"v":46.8},{"i":154.2,"v":49.3},{"i":155.3,"v":58.2},
      {"i":157.4,"v":67},{"i":159,"v":70},{"i":161.7,"v":71},{"i":163.3,"v":80.8},{"i":165.3,"v":80},{"i":166.9,"v":74.9},
      {"i":168,"v":78.9},{"i":169.3,"v":80.8},{"i":170.1,"v":69},{"i":172.2,"v":68},{"i":173.8,"v":71},{"i":175.4,"v":57.2},
      {"i":177,"v":57.2},{"i":178.7,"v":56.2},{"i":180.3,"v":46.8},{"i":181.9,"v":42.8},{"i":184,"v":44.4},{"i":185.1,"v":41.4},
      {"i":186.1,"v":46.8},{"i":187.2,"v":49.3},{"i":188.3,"v":46},{"i":189.9,"v":47.3},{"i":191.5,"v":52.3},{"i":193.1,"v":60.2},
      {"i":194.7,"v":61.1},{"i":196.8,"v":66.1},{"i":198.4,"v":44.8},{"i":199.5,"v":52.3},{"i":201.1,"v":49.3},{"i":203.3,"v":51.3},
      {"i":204.9,"v":65.1},{"i":206.5,"v":63.1},{"i":208.1,"v":65.1},{"i":209.7,"v":63.1},{"i":211.3,"v":66.1},{"i":212.3,"v":59.8},
      {"i":213.4,"v":63.7},{"i":214.5,"v":59.2},{"i":216.1,"v":67},{"i":217.7,"v":68},{"i":219.3,"v":69},{"i":221.4,"v":70},
      {"i":222.5,"v":58.6},{"i":224.1,"v":56.2},{"i":225.7,"v":61.1},{"i":227.3,"v":67},{"i":228.9,"v":53.3},{"i":230.5,"v":52.7},
      {"i":232.1,"v":56.2},{"i":233.7,"v":55.2},{"i":235.3,"v":68},{"i":236.9,"v":65.1},{"i":238.5,"v":67},{"i":240.2,"v":66.1},
      {"i":241.8,"v":58.2},{"i":243.4,"v":64.1},{"i":245,"v":62.1},{"i":246.6,"v":51.3},{"i":247.6,"v":56.2},{"i":248.7,"v":55.2},
      {"i":250.3,"v":59.2},{"i":251.4,"v":43.4},{"i":252.4,"v":48.3},{"i":254.1,"v":42.8},{"i":256.2,"v":40.8},{"i":257.5,"v":45.4}
    ],
    "stochBand": [{"lo": 20, "hi": 80}],
    "stochLevels": [{"v": 20}, {"v": 80}],
    "rsiBand": [{"lo": 30, "hi": 70}],
    "rsiLevels": [{"v": 30}, {"v": 70}],
    "scaleEdge": [{"i": 310.25}]
  },
  "vconcat": [
    {
      "width": 1764,
      "height": 324,
      "layer": [
        {
          "data": {"name": "candles"},
          "mark": {"type": "rule", "color": "#000000", "strokeWidth": 1},
          "encoding": {
            "x": {"field": "i", "type": "quantitative", "scale": {"domain": [-1.11, 330.16], "nice": false, "zero": false}, "axis": null},
            "y": {
              "field": "l", "type": "quantitative", "title": null,
              "scale": {"domain": [1.0975, 1.1563], "nice": false, "zero": false},
              "axis": {"orient": "right", "offset": -106, "values": [1.1, 1.11, 1.12, 1.13, 1.14, 1.15], "format": ".5f", "labelAlign": "left", "labelBaseline": "middle", "labelPadding": 15, "domainColor": "#50535e"}
            },
            "y2": {"field": "h"}
          }
        },
        {
          "data": {"name": "candles"},
          "mark": {"type": "bar", "width": 2.6, "stroke": "#000000", "strokeWidth": 1},
          "encoding": {
            "x": {"field": "i", "type": "quantitative"},
            "y": {"field": "o", "type": "quantitative", "title": null},
            "y2": {"field": "c"},
            "fill": {"condition": {"test": "datum.c >= datum.o", "value": "#34a12b"}, "value": "#ea1b6b"}
          }
        },
        {
          "data": {"name": "maRed"},
          "mark": {"type": "line", "color": "#b9292c", "strokeWidth": 3.5, "interpolate": "monotone"},
          "encoding": {
            "x": {"field": "i", "type": "quantitative"},
            "y": {"field": "v", "type": "quantitative", "title": null}
          }
        },
        {
          "data": {"name": "maBlue"},
          "mark": {"type": "line", "color": "#1f4fa8", "strokeWidth": 3.5, "interpolate": "monotone"},
          "encoding": {
            "x": {"field": "i", "type": "quantitative"},
            "y": {"field": "v", "type": "quantitative", "title": null}
          }
        },
        {
          "data": {"name": "channel"},
          "transform": [{"filter": "datum.g != 'mid'"}],
          "mark": {"type": "line", "color": "#000000", "strokeWidth": 3},
          "encoding": {
            "x": {"field": "i", "type": "quantitative"},
            "y": {"field": "p", "type": "quantitative", "title": null},
            "detail": {"field": "g"}
          }
        },
        {
          "data": {"name": "channel"},
          "transform": [{"filter": "datum.g == 'mid'"}],
          "mark": {"type": "line", "color": "#000000", "strokeWidth": 1.2, "strokeDash": [7, 5]},
          "encoding": {
            "x": {"field": "i", "type": "quantitative"},
            "y": {"field": "p", "type": "quantitative", "title": null}
          }
        }
      ]
    },
    {
      "width": 1764,
      "height": 101,
      "layer": [
        {
          "data": {"name": "stochBand"},
          "mark": {"type": "rect", "color": "#e9d1fc"},
          "encoding": {
            "x": {"datum": -1.11, "type": "quantitative", "scale": {"domain": [-1.11, 330.16], "nice": false, "zero": false}, "axis": null},
            "x2": {"datum": 310.25},
            "y": {
              "field": "lo", "type": "quantitative", "title": null,
              "scale": {"domain": [-8.1, 109.3], "nice": false, "zero": false},
              "axis": {"orient": "right", "offset": -106, "values": [0, 100], "format": ".2f", "labelAlign": "left", "labelBaseline": "middle", "labelPadding": 15, "domainColor": "#50535e"}
            },
            "y2": {"field": "hi"}
          }
        },
        {
          "data": {"name": "stochLevels"},
          "mark": {"type": "rule", "color": "#5d5e66", "strokeWidth": 1, "strokeDash": [4, 3]},
          "encoding": {
            "x": {"datum": -1.11, "type": "quantitative"},
            "x2": {"datum": 310.25},
            "y": {"field": "v", "type": "quantitative", "title": null}
          }
        },
        {
          "data": {"name": "stochD"},
          "mark": {"type": "line", "color": "#ff6d00", "strokeWidth": 1.6},
          "encoding": {
            "x": {"field": "i", "type": "quantitative"},
            "y": {"field": "v", "type": "quantitative", "title": null}
          }
        },
        {
          "data": {"name": "stochK"},
          "mark": {"type": "line", "color": "#2196f3", "strokeWidth": 1.6},
          "encoding": {
            "x": {"field": "i", "type": "quantitative"},
            "y": {"field": "v", "type": "quantitative", "title": null}
          }
        }
      ]
    },
    {
      "width": 1764,
      "height": 108,
      "layer": [
        {
          "data": {"name": "rsiBand"},
          "mark": {"type": "rect", "color": "#f3e6fd"},
          "encoding": {
            "x": {"datum": -1.11, "type": "quantitative", "scale": {"domain": [-1.11, 330.16], "nice": false, "zero": false}, "axis": null},
            "x2": {"datum": 310.25},
            "y": {
              "field": "lo", "type": "quantitative", "title": null,
              "scale": {"domain": [24.8, 88.0], "nice": false, "zero": false},
              "axis": {"orient": "right", "offset": -106, "values": [40, 80], "format": ".2f", "labelAlign": "left", "labelBaseline": "middle", "labelPadding": 15, "domainColor": "#50535e"}
            },
            "y2": {"field": "hi"}
          }
        },
        {
          "data": {"name": "rsiLevels"},
          "mark": {"type": "rule", "color": "#bcbcc4", "strokeWidth": 1, "strokeDash": [4, 3]},
          "encoding": {
            "x": {"datum": -1.11, "type": "quantitative"},
            "x2": {"datum": 310.25},
            "y": {"field": "v", "type": "quantitative", "title": null}
          }
        },
        {
          "data": {"name": "rsi"},
          "mark": {"type": "line", "color": "#8a1f9e", "strokeWidth": 1.5},
          "encoding": {
            "x": {"field": "i", "type": "quantitative"},
            "y": {"field": "v", "type": "quantitative", "title": null}
          }
        }
      ]
    },
    {
      "width": 1764,
      "height": 47,
      "data": {"name": "scaleEdge"},
      "mark": {"type": "rule", "color": "#50535e", "strokeWidth": 1},
      "encoding": {
        "x": {
          "field": "i", "type": "quantitative",
          "scale": {"domain": [-1.11, 330.16], "nice": false, "zero": false},
          "axis": {
            "orient": "top",
            "values": [28, 58, 88, 118, 166, 208, 238, 268, 298],
            "labelExpr": "datum.value == 28 ? 'May' : datum.value == 58 ? '8' : datum.value == 88 ? '15' : datum.value == 118 ? '22' : datum.value == 166 ? 'Jun' : datum.value == 208 ? '12' : datum.value == 238 ? '19' : datum.value == 268 ? '26' : datum.value == 298 ? 'Jul' : ''",
            "labelPadding": -24,
            "labelBaseline": "middle",
            "labelAlign": "center",
            "labelFlush": false,
            "labelOverlap": false,
            "domainColor": "#50535e",
            "title": "17",
            "titleX": 1,
            "titleY": 80,
            "titleAlign": "left",
            "titleAnchor": "start",
            "titleAngle": 0,
            "titleBaseline": "alphabetic",
            "titleFont": "Inter",
            "titleFontSize": 24,
            "titleFontWeight": 900,
            "titleColor": "#131722"
          }
        }
      }
    }
  ],
  "resolve": {"scale": {"x": "independent", "y": "independent"}},
  "config": {
    "view": {"stroke": "#e0e3eb", "strokeWidth": 1},
    "font": "Roboto",
    "axis": {
      "labelFont": "Roboto",
      "labelFontSize": 19,
      "labelColor": "#4a4a4a",
      "grid": false,
      "ticks": false
    }
  }
}
